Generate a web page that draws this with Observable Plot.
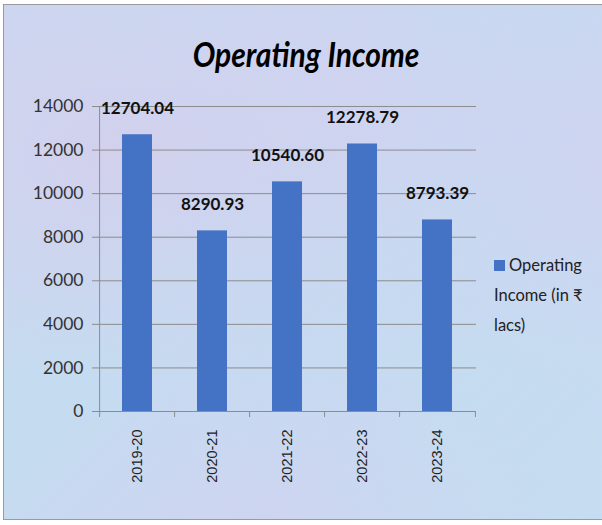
<!DOCTYPE html>
<html>
<head>
<meta charset="utf-8">
<script src="https://cdn.jsdelivr.net/npm/d3@7"></script>
<script src="https://cdn.jsdelivr.net/npm/@observablehq/plot@0.6"></script>
<style>
  html, body { margin: 0; padding: 0; background: #fff; }
  #wrap { position: relative; width: 602px; height: 525px; overflow: hidden; background: #fff; }
  #panel {
    position: absolute; left: 3px; top: 4px; width: 605px; height: 516px;
    border: 1px solid #9a9a9a; box-sizing: border-box;
    background:
      radial-gradient(ellipse at 20% 30%, rgba(220,200,235,0.55), rgba(220,200,235,0) 45%),
      radial-gradient(ellipse at 75% 70%, rgba(190,225,240,0.6), rgba(190,225,240,0) 50%),
      radial-gradient(ellipse at 60% 15%, rgba(215,205,240,0.5), rgba(215,205,240,0) 45%),
      linear-gradient(135deg, #cbd8f1 0%, #c4dcf0 40%, #d0d3f0 70%, #c6dcf2 100%);
  }
  #chart { position: absolute; left: 0; top: 0; }
  #title {
    position: absolute; left: 0; width: 612px; top: 36px; text-align: center;
    font-family: Lato, sans-serif; font-weight: 700; font-style: italic; font-size: 30px; color: #000;
    transform: scaleY(1.12);
  }
  #legend {
    position: absolute; left: 494px; top: 250px; width: 100px;
    font-family: Lato, "Noto Sans", sans-serif; font-size: 16.5px; line-height: 30px; color: #222;
  }
  #legend .sw { display: inline-block; width: 11px; height: 11px; background: #4472c4; margin-right: 4px; vertical-align: 0px; }
</style>
</head>
<body>
<div id="wrap">
  <div id="panel"></div>
  <div id="chart"></div>
  <div id="title">Operating Income</div>
  <div id="legend"><span class="sw"></span>Operating<br>Income (in ₹<br>lacs)</div>
</div>
<script>
const years = ["2019-20", "2020-21", "2021-22", "2022-23", "2023-24"];
const income = [12704.04, 8290.93, 10540.60, 12278.79, 8793.39];
const labels = ["12704.04", "8290.93", "10540.60", "12278.79", "8793.39"];
const yTicks = [0, 2000, 4000, 6000, 8000, 10000, 12000, 14000];

const data = years.map((y, i) => ({year: y, value: income[i], label: labels[i]}));

const W = 602, H = 525;
const mL = 97, mR = 126, mT = 106, mB = 114;
const step = (W - mL - mR) / years.length;
const grid = "#8c8c8c";

const chart = Plot.plot({
  width: W, height: H,
  marginLeft: mL, marginRight: mR, marginTop: mT, marginBottom: mB,
  style: {background: "transparent", overflow: "visible"},
  x: {domain: years, paddingInner: 0.6, paddingOuter: 0.3, label: null},
  y: {domain: [0, 14000], label: null},
  marks: [
    Plot.gridY(yTicks, {stroke: grid, strokeOpacity: 1, strokeWidth: 1}),
    Plot.barY(data, {x: "year", y: "value", fill: "#4472c4"}),
    Plot.ruleY([0], {stroke: grid, strokeWidth: 1}),
    Plot.ruleX([years[0]], {y1: 0, y2: 14000, dx: -step / 2, stroke: grid}),
    Plot.ruleX(years, {y1: 0, y2: 0, insetBottom: -6, dx: -step / 2, stroke: grid}),
    Plot.ruleX([years[years.length - 1]], {y1: 0, y2: 0, insetBottom: -6, dx: step / 2, stroke: grid}),
    Plot.axisY(yTicks, {
      tickSize: 5, tickPadding: 9, stroke: grid,
      tickFormat: d => String(d),
      fontFamily: "Lato, sans-serif", fontSize: 17.5, fill: "#333"
    }),
    Plot.axisX({
      tickSize: 0, tickRotate: -90, tickPadding: 18,
      fontFamily: "Liberation Sans, Arial, sans-serif", fontSize: 14.5, fill: "#222"
    }),
    Plot.text(data, {
      x: "year", y: "value", text: "label", dy: -26,
      fontFamily: "Lato, sans-serif", fontWeight: "bold", fontSize: 17, fill: "#111"
    })
  ]
});
document.getElementById("chart").appendChild(chart);
</script>
</body>
</html>
